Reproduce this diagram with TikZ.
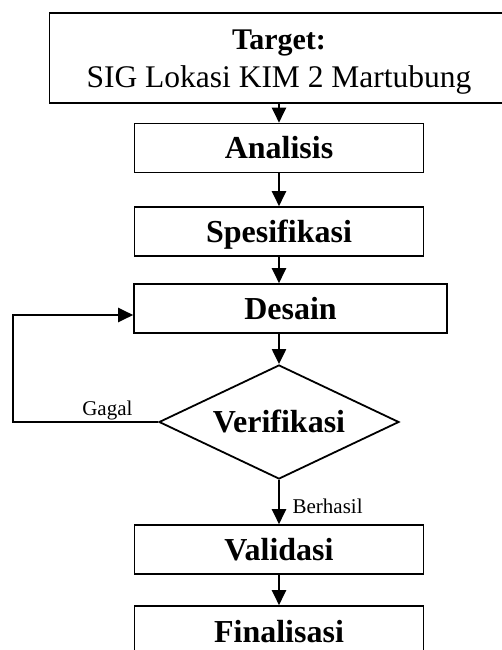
\documentclass[tikz,border=0pt]{standalone}
\usepackage{fontspec}
\setmainfont{Liberation Serif}
\usetikzlibrary{arrows.meta, shapes.geometric}
\tikzset{
    targetbox/.style={rectangle, draw, line width=1.6pt, minimum width=459pt, minimum height=90pt, inner sep=0pt, align=center, font=\fontsize{31.5}{38}\selectfont},
    procbox/.style={rectangle, draw, line width=1.6pt, minimum width=289pt, minimum height=49pt, inner sep=0pt, text height=21pt, text depth=0pt, font=\fontsize{32}{38}\selectfont\bfseries},
    decision/.style={diamond, draw, line width=1.8pt, aspect=2.1, minimum width=240pt, minimum height=114pt, inner sep=0pt, text height=21pt, text depth=0pt, font=\fontsize{32}{38}\selectfont\bfseries},
    flow/.style={draw, line width=2.2pt, -{Triangle[length=15pt, width=14pt]}},
    edgelabel/.style={inner sep=0.5pt, font=\fontsize{21}{25}\selectfont},
}
\begin{document}
\begin{tikzpicture}[x=1pt, y=-1pt]
    \useasboundingbox (0,0) rectangle (501,650);
    % boxes of the flow
    \node[targetbox] (target) at (279,58) {\rule{0pt}{22pt}{\fontsize{30}{38}\selectfont\bfseries Target:}\\\smash{SIG Lokasi KIM 2 Martubung}};
    \node[procbox] (ana) at (279,148) {Analisis};
    \node[procbox] (spes) at (279,231.5) {Spesifikasi};
    \node[procbox, minimum width=313pt] (des) at (290.5,308.5) {Desain};
    \node[decision] (ver) at (279,422) {Verifikasi};
    \node[procbox] (val) at (279,549.5) {Validasi};
    \node[procbox, minimum height=52pt] (fin) at (279,632) {Finalisasi};
    % connectors
    \draw[flow] (target.south) -- (ana.north);
    \draw[flow] (ana) -- (spes);
    \draw[flow] (spes.south) -- (spes.south |- des.north);
    \draw[flow] (ver.north |- des.south) -- (ver.north);
    \draw[flow] (ver.west) -- node[edgelabel, above, pos=0.35] {Gagal} ++(-145,0) |- ([yshift=-6.5pt]des.west);
    \draw[flow] (ver.south) -- node[edgelabel, right=12pt, pos=0.6] {Berhasil} (val.north);
    \draw[flow] (val) -- (fin);
\end{tikzpicture}
\end{document}
